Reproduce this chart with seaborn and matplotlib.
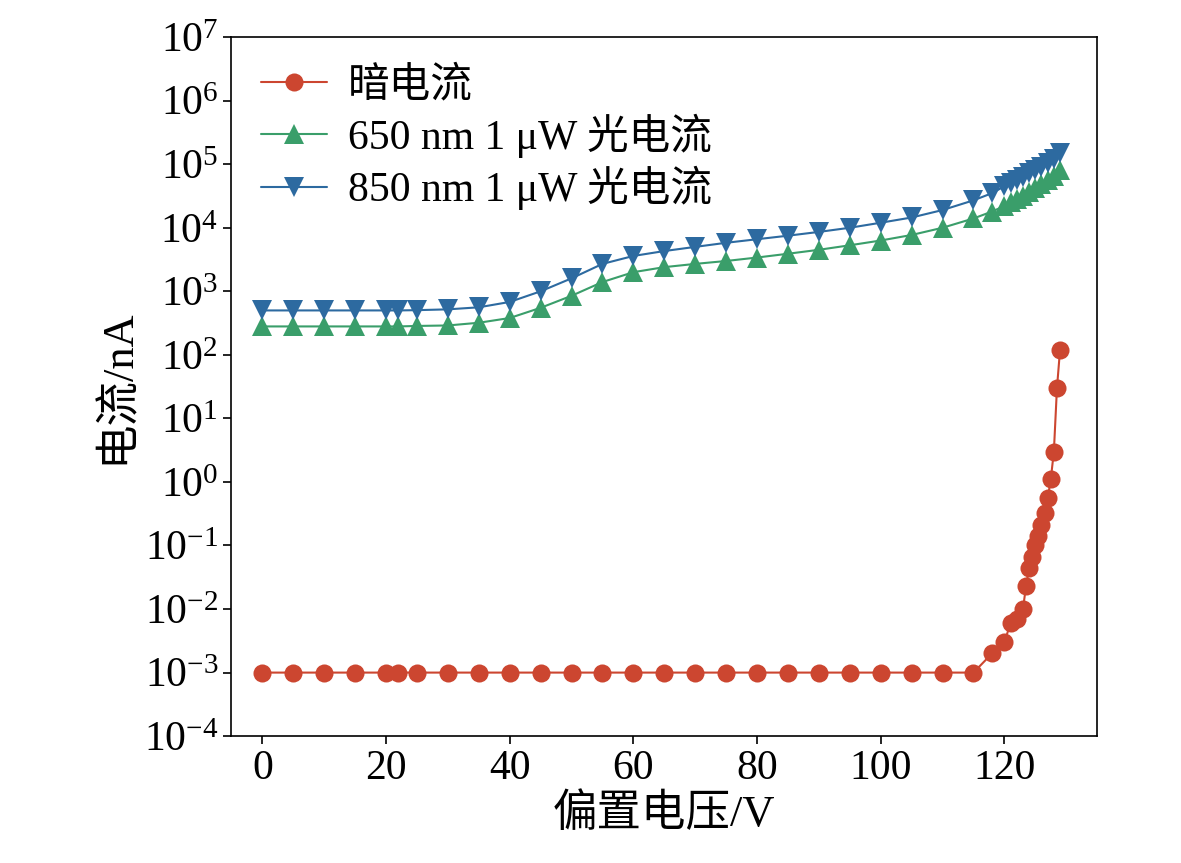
import matplotlib
matplotlib.use("Agg")
import matplotlib.pyplot as plt
import pandas as pd
import seaborn as sns
from matplotlib.ticker import LogLocator, NullLocator

dark_v = [0, 5, 10, 15, 20, 22, 25, 30, 35, 40, 45, 50, 55, 60, 65, 70, 75, 80, 85, 90,
          95, 100, 105, 110, 115, 118, 120, 121, 122, 123, 123.5, 124, 124.5, 125, 125.5,
          126, 126.5, 127, 127.5, 128, 128.5, 129]
dark_i = [1e-3] * 25 + [2e-3, 3e-3, 6e-3, 7e-3, 1e-2, 2.3e-2, 4.5e-2, 6.5e-2, 0.1, 0.14,
                        0.21, 0.33, 0.55, 1.1, 3, 30, 120]

photo_v = [0, 5, 10, 15, 20, 22, 25, 30, 35, 40, 45, 50, 55, 60, 65, 70, 75, 80, 85, 90,
           95, 100, 105, 110, 115, 118, 120, 121, 122, 123, 124, 125, 126, 127, 128, 129]
i_650 = [280, 280, 280, 280, 280, 280, 285, 290, 320, 380, 550, 850, 1400, 2000, 2400,
         2700, 3000, 3400, 3900, 4500, 5300, 6300, 7700, 10000, 14000, 18000, 22000,
         25000, 28000, 32000, 36000, 42000, 48000, 56000, 65000, 80000]
i_850 = [500, 500, 500, 500, 500, 500, 505, 520, 560, 680, 1000, 1600, 2700, 3600, 4300,
         5000, 5800, 6600, 7500, 8600, 10000, 12000, 14500, 19000, 27000, 35000, 45000,
         50000, 57000, 64000, 72000, 80000, 90000, 105000, 120000, 150000]

sns.set_theme(style="ticks")
plt.rcParams["font.family"] = ["Liberation Serif", "Noto Sans CJK SC"]
plt.rcParams["mathtext.fontset"] = "stix"
plt.rcParams["text.color"] = "black"
plt.rcParams["axes.labelcolor"] = "black"
plt.rcParams["xtick.color"] = "black"
plt.rcParams["ytick.color"] = "black"

fig = plt.figure(figsize=(11.81, 8.63), dpi=100)
ax = fig.add_axes([0.196, 0.147, 0.733, 0.81])

dark = pd.DataFrame({"v": dark_v, "i": dark_i})
photo = pd.DataFrame({"v": photo_v, "i650": i_650, "i850": i_850})

sns.lineplot(data=dark, x="v", y="i", ax=ax, color="#cc4630", marker="o", markersize=13,
             markeredgewidth=0, linewidth=1.5, label="暗电流")
sns.lineplot(data=photo, x="v", y="i650", ax=ax, color="#3a9e6a", marker="^", markersize=14,
             markeredgewidth=0, linewidth=1.5, label="650 nm 1 μW 光电流")
sns.lineplot(data=photo, x="v", y="i850", ax=ax, color="#2d6aa0", marker="v", markersize=14,
             markeredgewidth=0, linewidth=1.5, label="850 nm 1 μW 光电流")

ax.set_yscale("log")
ax.set_ylim(1e-4, 1e7)
ax.set_xlim(-5, 135)
ax.set_xticks([0, 20, 40, 60, 80, 100, 120])
ax.yaxis.set_major_locator(LogLocator(base=10, numticks=20))
ax.yaxis.set_minor_locator(NullLocator())
ax.tick_params(labelsize=30, width=1.2, length=6)
for s in ax.spines.values():
    s.set_linewidth(1.2)
    s.set_color("black")
ax.set_xlabel("偏置电压/V", fontsize=32)
ax.set_ylabel("电流/nA", fontsize=32)
ax.legend(loc="upper left", fontsize=30, frameon=False, handlelength=1.6,
          handletextpad=0.5, borderaxespad=0.3, labelspacing=0.2)

fig.savefig("out.png", dpi=100)
